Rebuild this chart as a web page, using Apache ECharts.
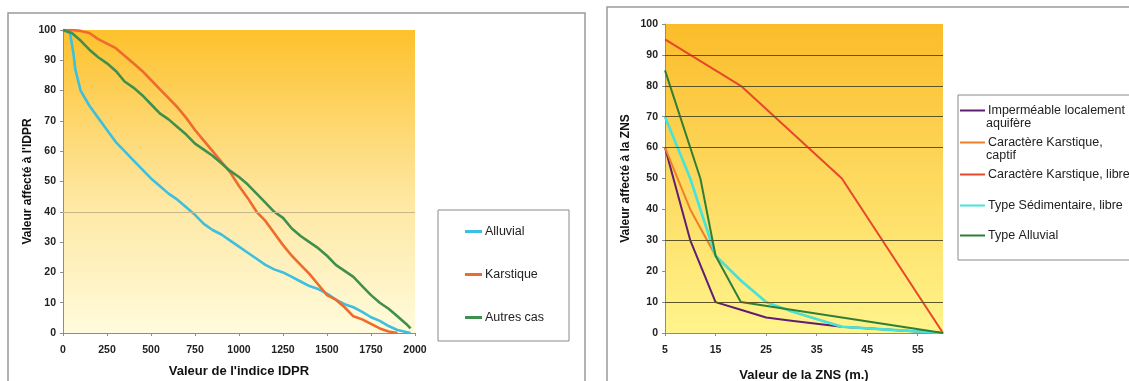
<!DOCTYPE html>
<html>
<head>
<meta charset="utf-8">
<script src="https://cdn.jsdelivr.net/npm/echarts@6/dist/echarts.min.js"></script>
<style>
  html, body { margin: 0; padding: 0; background: #fff; }
  #main { width: 1129px; height: 381px; }
</style>
</head>
<body>
<div id="main"></div>
<script>
// --- chart de gauche : IDPR ---
var idprTicks = [0, 250, 500, 750, 1000, 1250, 1500, 1750, 2000];
var idprNames = ['Alluvial', 'Karstique', 'Autres cas'];
var alluvial = [[0,100],[40,99],[60,92],[70,87],[100,80],[150,75],[200,71],[250,67],[300,63],[350,60],[400,57],[450,54],[500,51],[550,48.5],[600,46],[650,44],[700,41.5],[750,39],[800,36],[850,34],[900,32.5],[950,30.5],[1000,28.5],[1050,26.5],[1100,24.5],[1150,22.5],[1200,21],[1250,20],[1300,18.5],[1350,17],[1400,15.5],[1450,14.5],[1500,13],[1550,11],[1600,9.5],[1650,8.5],[1700,7],[1750,5.2],[1800,4],[1850,2.3],[1900,1],[1950,0.3],[1975,0]];
var karstique = [[0,100],[50,100],[100,99.7],[150,99],[200,97],[250,95.5],[300,94],[350,91.5],[400,89],[450,86.5],[500,83.5],[550,80.5],[600,77.5],[650,74.5],[700,71],[750,67],[800,63.5],[850,60],[900,56.5],[950,53],[1000,48.5],[1050,44.5],[1100,40],[1150,37],[1200,33],[1250,29],[1300,25.5],[1350,22.5],[1400,19.5],[1450,16],[1500,12.5],[1550,11],[1600,8.5],[1650,5.5],[1700,4.5],[1750,3],[1800,1.5],[1850,0.5],[1900,0]];
var autresCas = [[0,100],[50,99],[100,96.5],[150,93.5],[200,91],[250,89],[300,86.5],[350,83],[400,81],[450,78.5],[500,75.5],[550,72.5],[600,70.5],[650,68],[700,65.5],[750,62.5],[800,60.5],[850,58.5],[900,56],[950,53.5],[1000,51.5],[1050,49],[1100,46],[1150,43],[1200,40],[1250,38],[1300,34.5],[1350,32],[1400,30],[1450,28],[1500,25.5],[1550,22.5],[1600,20.5],[1650,18.5],[1700,15.5],[1750,12.5],[1800,10],[1850,8],[1900,5.5],[1950,3],[1975,1.5]];
var idprGrid = [40];

// --- chart de droite : ZNS ---
var znsTicks = [5, 15, 25, 35, 45, 55];
var znsLegend = [['Imperméable localement', 'aquifère'], ['Caractère Karstique,', 'captif'], ['Caractère Karstique, libre'], ['Type Sédimentaire, libre'], ['Type Alluvial']];
var impermeable = [[5,60],[10,30],[15,10],[20,7.5],[25,5],[30,4],[40,2],[60,0]];
var karstCaptif = [[5,60],[10,40],[15,25],[20,17],[25,10],[30,7],[40,2],[50,1],[60,0]];
var karstLibre = [[5,95],[20,80],[40,50],[60,0]];
var sedimentaire = [[5,70],[10,50],[15,25],[20,17],[25,10],[30,7],[40,2],[50,1],[60,0]];
var typeAlluvial = [[5,85],[12,50],[15,25],[20,10],[40,5],[60,0]];
var znsGrid = [10, 30, 60, 70, 80, 90];

var font = '"Liberation Sans", Arial, sans-serif';
var myChart = echarts.init(document.getElementById('main'));

function axisLbl() {
  return { fontFamily: font, fontSize: 10.5, fontWeight: 'bold', color: '#222',
    formatter: function (v) { return String(v); } };
}
function titleStyle(size) {
  return { fontFamily: font, fontSize: size, fontWeight: 'bold', color: '#111' };
}
function gridLines(vals, color) {
  return {
    silent: true, symbol: 'none', label: { show: false },
    lineStyle: { color: color, width: 1, type: 'solid' },
    data: vals.map(function (v) { return { yAxis: v }; })
  };
}

var znsNames = znsLegend.map(function (l) { return l.join(' '); });
var znsColors = ['#5E1F73', '#F07F2C', '#E8472A', '#45E3DC', '#2F7F35'];
var znsData = [impermeable, karstCaptif, karstLibre, sedimentaire, typeAlluvial];
var znsRowY = [111, 143, 175, 206, 236];

var legends = [{
  data: idprNames, orient: 'vertical', left: 465, top: 225, padding: 0,
  itemGap: 30, itemWidth: 17, itemHeight: 3, icon: 'rect',
  textStyle: { fontFamily: font, fontSize: 12.5, color: '#222', padding: [0, 0, 0, -2] }
}];
znsNames.forEach(function (n, i) {
  legends.push({
    data: [n], left: 960, top: znsRowY[i] - 7, padding: 0,
    itemWidth: 25, itemHeight: 2, icon: 'rect',
    formatter: function () { return znsLegend[i][0]; },
    textStyle: { fontFamily: font, fontSize: 12.5, color: '#222', padding: [0, 0, 0, -2] }
  });
});

var graphics = [
  { type: 'rect', shape: { x: 8, y: 13, width: 577, height: 400 }, style: { fill: 'none', stroke: '#9a9a9a', lineWidth: 1.5 }, z: -1 },
  { type: 'rect', shape: { x: 607, y: 7, width: 540, height: 400 }, style: { fill: 'none', stroke: '#9a9a9a', lineWidth: 1.5 }, z: -1 },
  { type: 'rect', shape: { x: 438, y: 210, width: 131, height: 131 }, style: { fill: '#fff', stroke: '#8a8a8a', lineWidth: 1 }, z: -1 },
  { type: 'rect', shape: { x: 958, y: 95, width: 200, height: 165 }, style: { fill: '#fff', stroke: '#8a8a8a', lineWidth: 1 }, z: -1 }
];
znsLegend.forEach(function (l, i) {
  if (l[1]) {
    graphics.push({ type: 'text', left: 986, top: znsRowY[i] + 6,
      style: { text: l[1], font: '12.5px ' + font, fill: '#222' } });
  }
});

var series = [
  { name: 'Alluvial', data: alluvial, color: '#3DBFE0', markLine: gridLines(idprGrid, '#c8b78a') },
  { name: 'Karstique', data: karstique, color: '#EE6B2E' },
  { name: 'Autres cas', data: autresCas, color: '#3F8F4E' }
].map(function (s) {
  return Object.assign({ type: 'line', xAxisIndex: 0, yAxisIndex: 0, showSymbol: false,
    lineStyle: { width: 2.6 } }, s);
});
znsNames.forEach(function (n, i) {
  series.push({
    name: n, type: 'line', xAxisIndex: 1, yAxisIndex: 1, showSymbol: false,
    data: znsData[i], color: znsColors[i], lineStyle: { width: i === 3 ? 2.6 : 2 },
    markLine: i === 0 ? gridLines(znsGrid, '#5c5424') : undefined
  });
});

var option = {
  animation: false,
  grid: [
    { left: 63, right: 714, top: 30, bottom: 48, show: true, borderWidth: 0,
      containLabel: false, outerBoundsMode: 'none',
      backgroundColor: new echarts.graphic.LinearGradient(0, 0, 0, 1, [
        { offset: 0, color: '#FDC12C' }, { offset: 0.55, color: '#FEE7A0' }, { offset: 1, color: '#FFFBDC' }]) },
    { left: 665, right: 186, top: 24, bottom: 48, show: true, borderWidth: 0,
      containLabel: false, outerBoundsMode: 'none',
      backgroundColor: new echarts.graphic.LinearGradient(0, 0, 0, 1, [
        { offset: 0, color: '#FBBC2A' }, { offset: 0.5, color: '#FDD95E' }, { offset: 1, color: '#FFF48C' }]) }
  ],
  legend: legends,
  graphic: graphics,
  xAxis: [
    { type: 'value', gridIndex: 0, min: 0, max: 2000, interval: 250,
      name: "Valeur de l'indice IDPR", nameLocation: 'middle', nameGap: 32,
      nameTextStyle: titleStyle(13),
      axisLine: { lineStyle: { color: '#8c8c8c' } },
      axisTick: { length: 3, lineStyle: { color: '#8c8c8c' } },
      axisLabel: Object.assign(axisLbl(), { margin: 12, customValues: idprTicks }),
      splitLine: { show: false } },
    { type: 'value', gridIndex: 1, min: 5, max: 60,
      name: 'Valeur de la ZNS (m.)', nameLocation: 'middle', nameGap: 36,
      nameTextStyle: titleStyle(13),
      axisLine: { lineStyle: { color: '#8c8c8c' } },
      axisTick: { length: 3, lineStyle: { color: '#8c8c8c' }, customValues: znsTicks },
      axisLabel: Object.assign(axisLbl(), { margin: 12, customValues: znsTicks }),
      splitLine: { show: false } }
  ],
  yAxis: [
    { type: 'value', gridIndex: 0, min: 0, max: 100, interval: 10,
      name: "Valeur affecté à l'IDPR", nameLocation: 'middle', nameGap: 29, nameRotate: 90,
      nameTextStyle: titleStyle(12),
      axisLine: { show: true, lineStyle: { color: '#8c8c8c' } },
      axisTick: { show: true, length: 3, lineStyle: { color: '#8c8c8c' } },
      axisLabel: Object.assign(axisLbl(), { margin: 7 }),
      splitLine: { show: false } },
    { type: 'value', gridIndex: 1, min: 0, max: 100, interval: 10,
      name: 'Valeur affecté à la ZNS', nameLocation: 'middle', nameGap: 33, nameRotate: 90,
      nameTextStyle: titleStyle(12),
      axisLine: { show: true, lineStyle: { color: '#8c8c8c' } },
      axisTick: { show: true, length: 3, lineStyle: { color: '#8c8c8c' } },
      axisLabel: Object.assign(axisLbl(), { margin: 7 }),
      splitLine: { show: false } }
  ],
  series: series
};

myChart.setOption(option);
</script>
</body>
</html>
